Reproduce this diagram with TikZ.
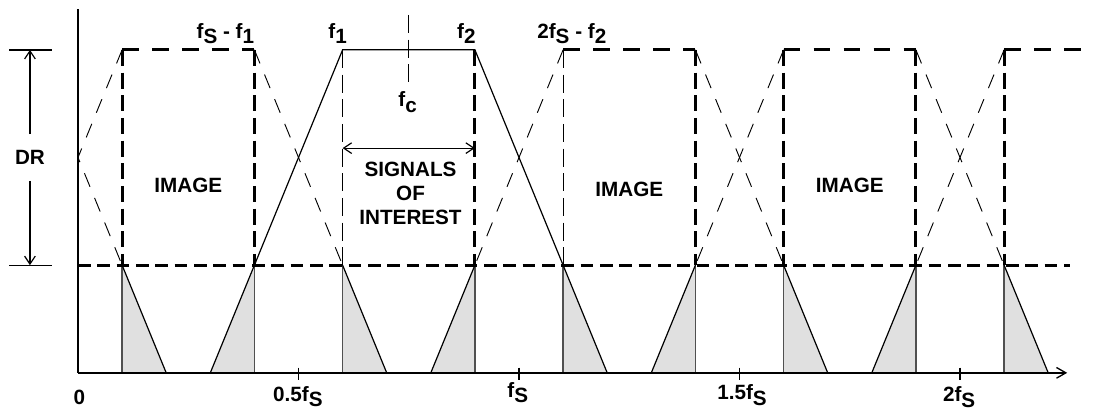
\documentclass[tikz,border=0pt]{standalone}
\usepackage{fontspec}
\setmainfont{Liberation Sans}
\usepackage{tikz}
\usetikzlibrary{arrows.meta, positioning}
\definecolor{shade}{RGB}{224,224,224}
\definecolor{edgegray}{RGB}{80,80,80}
\newcommand{\lo}[1]{\raisebox{-4pt}{#1}}

\begin{document}
\begin{tikzpicture}[
  x=330.75pt, y=80.75pt,
  axis/.style={line width=1pt},
  arrow/.style={-{Straight Barb[length=6pt, width=8pt]}, line width=0.9pt},
  bandtop/.style={line width=2.2pt, dash pattern=on 12.5pt off 10pt},
  bandedge/.style={line width=2.2pt, dash pattern=on 12pt off 5pt},
  thinedge/.style={line width=0.7pt, dash pattern=on 13.5pt off 5pt},
  skirt/.style={line width=0.7pt, dash pattern=on 11pt off 9pt},
  floorline/.style={line width=2.2pt, dash pattern=on 9.5pt off 5pt},
  signal/.style={line width=0.9pt},
  alias/.style={fill=shade, draw=none},
  txt/.style={font=\fontsize{15.5}{18}\selectfont\bfseries, inner sep=0pt, align=center}
]
\useasboundingbox (-0.1769,-0.362) rectangle (2.3152,3.463);

% axes
\coordinate (origin) at (0,0);
\coordinate (yend) at (0,3.376);
\coordinate (xend) at (2.243,0);

% aliased parts below the floor
\fill[alias] (0.1,1) -- (0.1,0) -- (0.2,0) -- cycle;
\fill[alias] (0.4,1) -- (0.4,0) -- (0.3,0) -- cycle;
\fill[alias] (0.6,1) -- (0.6,0) -- (0.7,0) -- cycle;
\fill[alias] (0.9,1) -- (0.9,0) -- (0.8,0) -- cycle;
\fill[alias] (1.1,1) -- (1.1,0) -- (1.2,0) -- cycle;
\fill[alias] (1.4,1) -- (1.4,0) -- (1.3,0) -- cycle;
\fill[alias] (1.6,1) -- (1.6,0) -- (1.7,0) -- cycle;
\fill[alias] (1.9,1) -- (1.9,0) -- (1.8,0) -- cycle;
\fill[alias] (2.1,1) -- (2.1,0) -- (2.2,0) -- cycle;

\draw[line width=1pt, edgegray] (0.1,1) -- (0.1,0) (0.4,1) -- (0.4,0)
  (0.6,1) -- (0.6,0) (0.9,1) -- (0.9,0) (1.1,1) -- (1.1,0)
  (1.4,1) -- (1.4,0) (1.6,1) -- (1.6,0) (1.9,1) -- (1.9,0) (2.1,1) -- (2.1,0);
\draw[signal] (0.1,1) -- (0.2,0) (0.6,1) -- (0.7,0) (0.9,1) -- (0.8,0)
  (1.4,1) -- (1.3,0) (1.6,1) -- (1.7,0) (1.9,1) -- (1.8,0) (2.1,1) -- (2.2,0);

\draw[axis] (yend) -- (origin);
\draw[axis, -{Straight Barb[length=7pt, width=8pt]}] (origin) -- (xend);
\draw[axis] (0.5,0.049) -- (0.5,-0.065) (1,0.049) -- (1,-0.065)
  (1.5,0.049) -- (1.5,-0.065) (2,0.049) -- (2,-0.065);

% signal band
\draw[signal] (0.3,0) -- (0.6,3) -- (0.9,3) -- (1.2,0);

% image skirts
\draw[skirt] (0.1,3) -- (0,2) -- (0.1,1);
\draw[skirt] (0.4,3) -- (0.6,1);
\draw[skirt] (1.1,3) -- (0.9,1);
\draw[skirt] (1.4,3) -- (1.6,1);
\draw[skirt] (1.6,3) -- (1.4,1);
\draw[skirt] (1.9,3) -- (2.1,1);
\draw[skirt] (2.1,3) -- (1.9,1);

% image bands
\draw[bandtop] (0.1,3) -- (0.4,3);
\draw[bandtop] (1.1,3) -- (1.4,3);
\draw[bandtop] (1.6,3) -- (1.9,3);
\draw[bandtop] (2.1,3) -- (2.295,3);
\draw[bandedge] (0.1,3) -- (0.1,1);
\draw[bandedge] (0.4,3) -- (0.4,1);
\draw[thinedge] (0.6,3) -- (0.6,1);
\draw[bandedge] (0.9,3) -- (0.9,1);
\draw[thinedge] (1.1,3) -- (1.1,1);
\draw[bandedge] (1.4,3) -- (1.4,1);
\draw[bandedge] (1.6,3) -- (1.6,1);
\draw[bandedge] (1.9,3) -- (1.9,1);
\draw[bandedge] (2.1,3) -- (2.1,1);

% noise floor
\draw[floorline] (0,1) -- (2.249,1);

% center frequency
\draw[thinedge] (0.75,3.324) -- (0.75,2.646);
\node[txt, anchor=base west] (fc) at (0.726,2.47) {f\lo{c}};

% dynamic range
\draw[axis] (-0.156,3) -- (-0.059,3);
\draw[axis] (-0.156,1) -- (-0.059,1);
\coordinate (drtop) at (-0.109,3);
\coordinate (drbot) at (-0.109,1);
\node[txt, inner ysep=12pt] (dr) at (-0.109,2.0) {DR};
\draw[arrow] (dr) -- (drtop);
\draw[arrow] (dr) -- (drbot);

% signals of interest
\coordinate (sigL) at (0.6,2.087);
\coordinate (sigR) at (0.9,2.087);
\draw[arrow, {Straight Barb[length=6pt, width=8pt]}-{Straight Barb[length=6pt, width=8pt]}] (sigL) -- (sigR);
\node[txt] (soi) at (0.754,1.67) {SIGNALS\\OF\\INTEREST};

\node[txt] (img1) at (0.25,1.745) {IMAGE};
\node[txt] (img2) at (1.25,1.70) {IMAGE};
\node[txt] (img3) at (1.75,1.745) {IMAGE};

% frequency labels
\node[txt, anchor=base east] (fsf1) at (0.4,3.107) {f\lo{S} - f\lo{1}};
\node[txt, anchor=base east] (f1) at (0.61,3.107) {f\lo{1}};
\node[txt, anchor=base east] (f2) at (0.902,3.107) {f\lo{2}};
\node[txt, anchor=base west] (tfsf2) at (1.041,3.107) {2f\lo{S} - f\lo{2}};

\node[txt, anchor=base] (x0) at (0.003,-0.29) {0};
\node[txt, anchor=base west] (xhalf) at (0.442,-0.262) {0.5f\lo{S}};
\node[txt, anchor=base west] (xone) at (0.973,-0.23) {f\lo{S}};
\node[txt, anchor=base west] (xthree) at (1.449,-0.25) {1.5f\lo{S}};
\node[txt, anchor=base west] (xtwo) at (1.961,-0.27) {2f\lo{S}};
\end{tikzpicture}
\end{document}
